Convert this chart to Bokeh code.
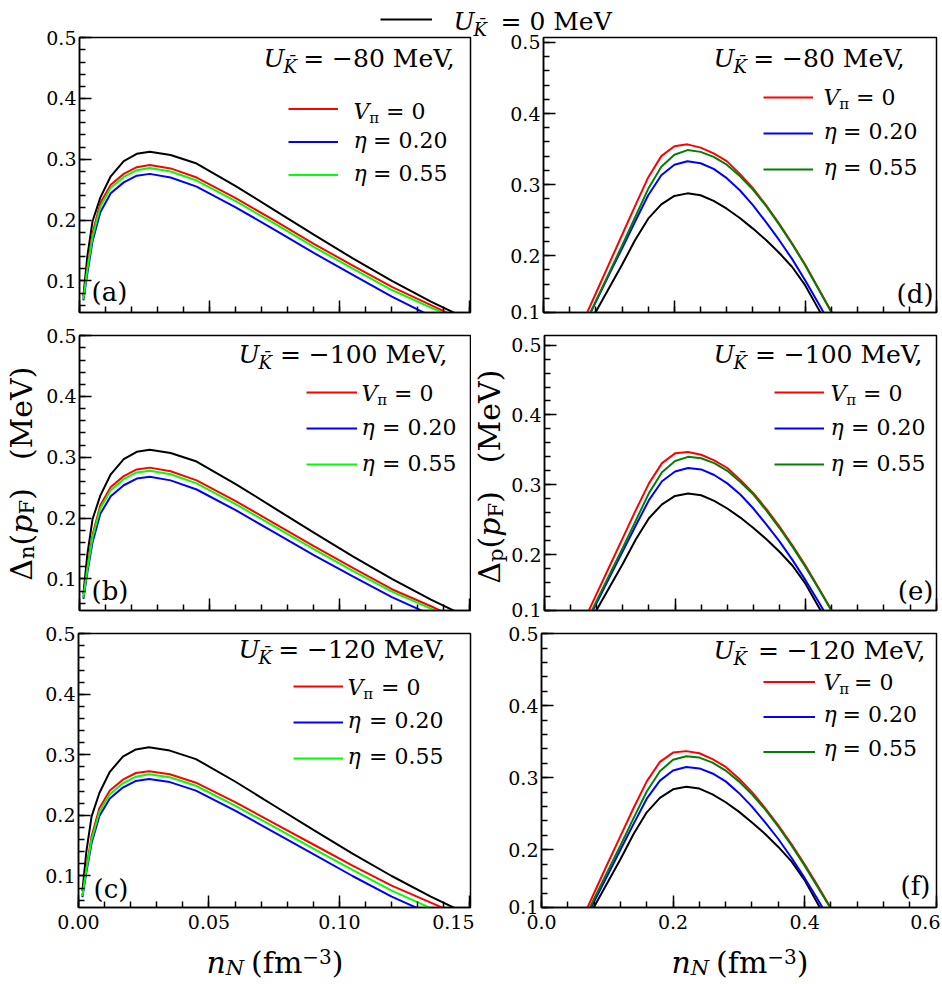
import math
import unicodedata
from bokeh.plotting import figure
from bokeh.models import (Label, Legend, LegendItem, Range1d, SingleIntervalTicker,
                          FixedTicker, CustomJSTickFormatter)
from bokeh.layouts import column, row
from bokeh.embed import file_html
from bokeh.resources import INLINE

FONT = "DejaVu Serif"
RED, BLUE, LIME, DGREEN, BLACK = "#ff0000", "#0000ff", "#00ff00", "#008000", "#000000"

# ---------------------------------------------------------------- data
# left column: Delta_n(p_F) (MeV) versus n_N (fm^-3)
x_left = [0.0015, 0.003, 0.005, 0.008, 0.012, 0.017, 0.022, 0.027, 0.035, 0.045,
          0.060, 0.075, 0.090, 0.105, 0.120, 0.135, 0.150]
black_left = [0.075, 0.140, 0.198, 0.237, 0.272, 0.297, 0.309, 0.3125, 0.307, 0.293,
              0.256, 0.216, 0.176, 0.137, 0.100, 0.066, 0.035]
a_red = [0.072, 0.122, 0.178, 0.228, 0.258, 0.276, 0.287, 0.2905, 0.285, 0.270,
         0.236, 0.199, 0.161, 0.125, 0.090, 0.060, 0.030]
a_blue = [0.068, 0.112, 0.165, 0.213, 0.244, 0.262, 0.273, 0.276, 0.270, 0.255,
          0.221, 0.184, 0.146, 0.110, 0.074, 0.042, 0.014]
a_green = [0.070, 0.118, 0.172, 0.222, 0.253, 0.271, 0.282, 0.2855, 0.280, 0.265,
           0.231, 0.194, 0.156, 0.120, 0.085, 0.056, 0.028]
b_red = [0.070, 0.118, 0.172, 0.221, 0.251, 0.269, 0.280, 0.283, 0.277, 0.262,
         0.228, 0.191, 0.154, 0.118, 0.083, 0.055, 0.025]
b_blue = [0.067, 0.110, 0.160, 0.207, 0.236, 0.254, 0.265, 0.268, 0.262, 0.247,
          0.213, 0.176, 0.139, 0.104, 0.070, 0.041, 0.013]
b_green = [0.069, 0.115, 0.168, 0.216, 0.246, 0.264, 0.275, 0.278, 0.272, 0.257,
           0.223, 0.186, 0.149, 0.113, 0.079, 0.051, 0.022]
c_red = [0.068, 0.113, 0.165, 0.212, 0.241, 0.259, 0.270, 0.273, 0.268, 0.254,
         0.222, 0.187, 0.152, 0.117, 0.084, 0.056, 0.028]
c_blue = [0.065, 0.106, 0.154, 0.199, 0.228, 0.246, 0.257, 0.260, 0.255, 0.241,
          0.208, 0.172, 0.136, 0.100, 0.066, 0.037, 0.010]
c_green = [0.067, 0.110, 0.160, 0.206, 0.235, 0.253, 0.264, 0.268, 0.263, 0.249,
           0.216, 0.181, 0.145, 0.110, 0.076, 0.047, 0.019]

# right column: Delta_p(p_F) (MeV) versus n_N (fm^-3)
x_right = [0.06, 0.08, 0.10, 0.12, 0.14, 0.16, 0.18, 0.20, 0.22, 0.24, 0.26,
           0.28, 0.30, 0.32, 0.34, 0.36, 0.38, 0.40, 0.42, 0.44, 0.46]
black_right = [0.088, 0.121, 0.154, 0.187, 0.222, 0.252, 0.272, 0.284, 0.2876, 0.285, 0.277,
               0.266, 0.253, 0.238, 0.222, 0.204, 0.184, 0.158, 0.125, 0.092, 0.060]
d_red = [0.106, 0.147, 0.188, 0.229, 0.270, 0.310, 0.340, 0.354, 0.3566, 0.352, 0.344,
         0.333, 0.315, 0.295, 0.271, 0.245, 0.217, 0.187, 0.154, 0.121, 0.088]
d_blue = [0.097, 0.135, 0.173, 0.210, 0.248, 0.285, 0.313, 0.328, 0.3327, 0.330, 0.322,
          0.309, 0.292, 0.271, 0.247, 0.222, 0.195, 0.165, 0.133, 0.100, 0.067]
d_green = [0.097, 0.136, 0.175, 0.214, 0.254, 0.294, 0.325, 0.342, 0.3485, 0.346, 0.339,
           0.328, 0.312, 0.293, 0.270, 0.244, 0.216, 0.186, 0.153, 0.120, 0.087]
e_red = [0.104, 0.144, 0.184, 0.224, 0.264, 0.302, 0.331, 0.345, 0.347, 0.343, 0.335,
         0.324, 0.307, 0.288, 0.265, 0.240, 0.213, 0.184, 0.152, 0.120, 0.088]
e_blue = [0.094, 0.131, 0.168, 0.205, 0.242, 0.278, 0.305, 0.319, 0.324, 0.322, 0.314,
          0.302, 0.286, 0.266, 0.243, 0.219, 0.192, 0.163, 0.132, 0.100, 0.068]
e_green = [0.096, 0.134, 0.172, 0.210, 0.249, 0.288, 0.318, 0.334, 0.340, 0.338, 0.331,
           0.320, 0.304, 0.286, 0.263, 0.238, 0.211, 0.182, 0.151, 0.119, 0.087]
f_red = [0.100, 0.140, 0.180, 0.219, 0.258, 0.295, 0.322, 0.335, 0.337, 0.334, 0.326,
         0.315, 0.299, 0.280, 0.258, 0.234, 0.208, 0.180, 0.150, 0.119, 0.088]
f_blue = [0.092, 0.128, 0.164, 0.200, 0.236, 0.271, 0.296, 0.310, 0.315, 0.313, 0.306,
          0.295, 0.279, 0.260, 0.238, 0.215, 0.189, 0.161, 0.131, 0.100, 0.069]
f_green = [0.094, 0.132, 0.169, 0.206, 0.244, 0.281, 0.309, 0.325, 0.330, 0.328, 0.321,
           0.310, 0.295, 0.277, 0.256, 0.232, 0.206, 0.178, 0.148, 0.118, 0.087]

panel_letters = ["(a)", "(b)", "(c)", "(d)", "(e)", "(f)"]
ukbar_values = ["\u221280", "\u2212100", "\u2212120"]
legend_texts = [("V", "\u03c0", "= 0"), ("\u03b7", None, "= 0.20"), ("\u03b7", None, "= 0.55")]

# ---------------------------------------------------------------- text metrics (approx. em widths)
W_REG = {".": .318, ",": .318, " ": .318, "=": .838, "\u2212": .838, "(": .390, ")": .390,
         "M": .97, "e": .592, "V": .722, "f": .37, "m": .948, "F": .70, "n": .644,
         "p": .640, "\u0394": .73, "\u03c0": .62}
W_REG.update({d: .636 for d in "0123456789"})
W_IT = {"U": .80, "K": .76, "V": .72, "\u03b7": .64, "p": .64, "n": .64, "N": .83, "\u03c0": .62}
BASE_SHIFT = 0.346   # the label anchor sits this many em above the drawn baseline


def tw(s, size, italic):
    tbl = W_IT if italic else W_REG
    return sum(tbl.get(c, .6) for c in s if not unicodedata.combining(c)) * size


def rich(p, fr, segs, start, base, end=None, vertical=False, center=False):
    """segs: (text, size, italic, dy) tuples or numbers (extra gap, px); page pixels."""
    fl, ft, frr, fb = fr
    items, cur = [], 0.0
    for s in segs:
        if isinstance(s, (int, float)):
            cur += s
            continue
        t, sz, it, dy = s
        items.append([t, sz, it, dy, cur])
        cur += tw(t, sz, it)
    if center:
        start = start + cur / 2 if vertical else start - cur / 2
    if end is not None and len(items) > 1:
        t, sz, it, dy, off = items[-1]
        want = abs(end - start) - tw(t, sz, it)
        if want > off:
            items[-1][4] = want
    for t, sz, it, dy, d in items:
        down = base + dy - BASE_SHIFT * sz
        if vertical:
            px, py, ang = down, start - d, math.pi / 2
        else:
            px, py, ang = start + d, down, 0.0
        p.add_layout(Label(x=px - fl, y=fb - py, x_units="screen", y_units="screen",
                           text=t, text_font=FONT, text_font_size=f"{sz}px",
                           text_font_style="italic" if it else "normal",
                           text_color="black", text_align="left",
                           text_baseline="alphabetic", angle=ang))


def add_legend(p, fr, renderers, x0, x1, yc, step):
    fl, ft, frr, fb = fr
    top = yc - step / 2
    bottom = top + step * len(renderers)
    items = [LegendItem(label="", renderers=[r]) for r in renderers]
    p.add_layout(Legend(items=items, location=(x0 - fl, fb - bottom),
                        glyph_width=int(round(x1 - x0)), glyph_height=int(round(step)),
                        spacing=0, padding=0, margin=0, label_standoff=0,
                        label_width=0, label_height=0,
                        border_line_color=None, background_fill_alpha=0))


def make_fig(canvas, frame, xr, yr, xtick, ytick, xfmt=None, yfmt=None):
    cl, ct, cr, cb = canvas
    fl, ft, frr, fb = frame
    p = figure(width=cr - cl, height=cb - ct, x_range=Range1d(*xr), y_range=Range1d(*yr),
               output_backend="svg", toolbar_location=None,
               min_border_left=fl - cl, min_border_right=cr - frr,
               min_border_top=ft - ct, min_border_bottom=cb - fb)
    p.grid.visible = False
    p.outline_line_color = "black"
    p.outline_line_width = 1.5
    p.outline_line_alpha = 1.0
    p.background_fill_color = "white"
    p.border_fill_color = None
    for ax in (p.xaxis[0], p.yaxis[0]):
        ax.axis_line_width = 1.5
        ax.axis_line_color = "black"
        ax.major_tick_in = 12
        ax.major_tick_out = 0
        ax.minor_tick_in = 6
        ax.minor_tick_out = 0
        ax.major_tick_line_width = 1.5
        ax.minor_tick_line_width = 1.5
        ax.major_tick_line_color = "black"
        ax.minor_tick_line_color = "black"
        ax.major_label_text_font = FONT
        ax.major_label_text_font_size = "19px"
        ax.major_label_text_color = "black"
    p.xaxis.ticker = xtick
    p.yaxis.ticker = ytick
    p.yaxis.major_label_standoff = 3
    if xfmt is not None:
        p.xaxis.formatter = xfmt
        p.xaxis.major_label_standoff = 7
    else:
        p.xaxis.major_label_standoff = 0
        p.xaxis.major_label_text_font_size = "0px"
        p.xaxis.major_label_text_color = None
    if yfmt is not None:
        p.yaxis.formatter = yfmt
    return p


def text_fig(canvas, margin=None):
    cl, ct, cr, cb = canvas
    kw = {} if margin is None else {"margin": margin}
    p = figure(width=cr - cl, height=cb - ct, x_range=Range1d(0, 1), y_range=Range1d(0, 1),
               output_backend="svg", toolbar_location=None,
               min_border_left=0, min_border_right=0, min_border_top=0, min_border_bottom=0, **kw)
    p.axis.visible = False
    p.grid.visible = False
    p.outline_line_color = None
    p.background_fill_color = None
    p.border_fill_color = None
    return p


def right_y_ticker():
    return FixedTicker(ticks=[0.12, 0.2, 0.3, 0.4, 0.5],
                       minor_ticks=[round(0.12 + 0.02 * i, 2) for i in range(21)])


def right_y_fmt():
    return CustomJSTickFormatter(code="return tick < 0.15 ? '0.1' : tick.toFixed(1);")


# ---------------------------------------------------------------- geometry (page pixels, origin 0,0)
HDR_CAN = (0, 0, 940, 40)
CAN = {"a": (0, 23, 490, 324), "d": (490, 23, 940, 324),
       "b": (42, 324, 471, 622), "e": (508, 324, 940, 622),
       "c": (0, 622, 474, 945), "f": (474, 622, 940, 945)}
FR = {"a": (79, 35, 470, 312), "d": (543, 37, 936, 312),
      "b": (79, 335, 470, 610), "e": (543, 325, 936, 610),
      "c": (78, 633, 470, 907), "f": (541, 633, 936, 909)}
YL_CAN = (0, 324, 42, 622)
YR_CAN = (471, 324, 508, 622)
XL_CAN = (0, 945, 940, 982)

XL = (0.0, 0.1502)
YL = (0.048, 0.5003)
XR = (0.0, 0.6005)
YR = {"d": (0.1199, 0.507), "e": (0.1199, 0.5138), "f": (0.1199, 0.5003)}

figs = {}
for k in "abc":
    figs[k] = make_fig(CAN[k], FR[k], XL, YL,
                       SingleIntervalTicker(interval=0.05, num_minor_ticks=5),
                       SingleIntervalTicker(interval=0.1, num_minor_ticks=5),
                       xfmt=CustomJSTickFormatter(code="return tick.toFixed(2);") if k == "c" else None)
for k in "def":
    figs[k] = make_fig(CAN[k], FR[k], XR, YR[k],
                       SingleIntervalTicker(interval=0.2, num_minor_ticks=5),
                       right_y_ticker(),
                       xfmt=CustomJSTickFormatter(code="return tick.toFixed(1);") if k == "f" else None,
                       yfmt=right_y_fmt())

series = {
    "a": (x_left, [black_left, a_red, a_blue, a_green], [BLACK, RED, BLUE, LIME]),
    "b": (x_left, [black_left, b_red, b_blue, b_green], [BLACK, RED, BLUE, LIME]),
    "c": (x_left, [black_left, c_red, c_blue, c_green], [BLACK, RED, BLUE, LIME]),
    "d": (x_right, [black_right, d_red, d_blue, d_green], [BLACK, RED, BLUE, DGREEN]),
    "e": (x_right, [black_right, e_red, e_blue, e_green], [BLACK, RED, BLUE, DGREEN]),
    "f": (x_right, [black_right, f_red, f_blue, f_green], [BLACK, RED, BLUE, DGREEN]),
}
rends = {}
for k, (xs, ys_list, cols) in series.items():
    rends[k] = [figs[k].line(xs, ys, line_color=c, line_width=2) for ys, c in zip(ys_list, cols)]

# per-panel annotation layout: U-text (start, end, baseline), legend (x0, x1, first row centre, step),
# legend texts (start, end of V-row, end of eta-rows, baselines), panel letter (x, baseline, anchor)
ANN = {
    "a": dict(u=(263, 457, 67), leg=(288, 338, 108, 33), txt=(353, 425, 447, (118.5, 148, 180.5)),
              let=(91, 300, "left")),
    "d": dict(u=(713, 907, 67), leg=(763, 813, 97, 36), txt=(823, 895, 917, (105, 139, 175)),
              let=(932, 302, "right")),
    "b": dict(u=(238, 450, 363), leg=(306, 357, 392, 36), txt=(361, 433, 456, (401, 435, 471)),
              let=(91, 599, "left")),
    "e": dict(u=(712, 924, 363), leg=(773, 823, 392, 36), txt=(829, 901, 924, (401, 435, 471)),
              let=(932, 599, "right")),
    "c": dict(u=(238, 445, 658), leg=(293, 343, 686, 36), txt=(347, 420, 443, (695, 728, 764)),
              let=(93, 897, "left")),
    "f": dict(u=(713, 928, 661), leg=(763, 815, 683, 35), txt=(823, 893, 916, (692, 724, 758)),
              let=(930, 896, "right")),
}
UVAL = {"a": ukbar_values[0], "d": ukbar_values[0], "b": ukbar_values[1],
        "e": ukbar_values[1], "c": ukbar_values[2], "f": ukbar_values[2]}
LETTER = dict(zip("abcdef", panel_letters))

for k, ann in ANN.items():
    p, fr = figs[k], FR[k]
    us, ue, ub = ann["u"]
    rich(p, fr, [("U", 25, True, 0), ("K\u0304", 18, True, 5), 6,
                 ("= " + UVAL[k] + " MeV,", 25, False, 0)], us, ub, end=ue)
    x0, x1, yc, step = ann["leg"]
    add_legend(p, fr, rends[k][1:], x0, x1, yc, step)
    ts, tev, tee, bases = ann["txt"]
    for (main, sub, rest), b in zip(legend_texts, bases):
        if sub is not None:
            segs = [(main, 22, True, 0), (sub, 15, False, 4), 3, (rest, 22, False, 0)]
            rich(p, fr, segs, ts, b, end=tev)
        else:
            segs = [(main, 22, True, 0), 5, (rest, 22, False, 0)]
            rich(p, fr, segs, ts, b, end=tee)
    lx, lb, anchor = ann["let"]
    txt = LETTER[k]
    start = lx if anchor == "left" else lx - tw(txt, 26, False)
    rich(p, fr, [(txt, 26, False, 0)], start, lb)

# header: black curve legend  U_Kbar = 0 MeV (first row overlaps it through a negative margin)
hdr = text_fig(HDR_CAN, margin=(0, 0, -17, 0))
r_hdr = hdr.line(x_left, black_left, line_color=BLACK, line_width=2, visible=False)
hdr.add_layout(Legend(items=[LegendItem(label="", renderers=[r_hdr])],
                      location=(380 - HDR_CAN[0], HDR_CAN[3] - 26), glyph_width=52, glyph_height=14,
                      spacing=0, padding=0, margin=0, label_standoff=0, label_width=0,
                      label_height=0, border_line_color=None, background_fill_alpha=0))
rich(hdr, HDR_CAN, [("U", 25, True, 0), ("K\u0304", 18, True, 5)], 453, 30)
rich(hdr, HDR_CAN, [("= 0 MeV", 25, False, 0)], 500, 30)

# y-axis titles (rotated, reading upwards)
ylf = text_fig(YL_CAN)
rich(ylf, YL_CAN, [("\u0394", 30, False, 0), ("n", 21, False, 3), ("(", 30, False, 0),
                   ("p", 30, True, 0), ("F", 21, False, 3), (")", 30, False, 0), 28,
                   ("(MeV)", 30, False, 0)], 486, 31, vertical=True, center=True)
yrf = text_fig(YR_CAN)
rich(yrf, YR_CAN, [("\u0394", 30, False, 0), ("p", 21, False, 3), ("(", 30, False, 0),
                   ("p", 30, True, 0), ("F", 21, False, 3), (")", 30, False, 0), 28,
                   ("(MeV)", 30, False, 0)], 489, 499.5, vertical=True, center=True)

# x-axis titles
xlf = text_fig(XL_CAN)
for cx in (274.5, 739.5):
    rich(xlf, XL_CAN, [("n", 30, True, 0), ("N", 21, True, 3), 8, ("(fm", 30, False, 0),
                       ("\u22123", 20, False, -9), (")", 30, False, 0)], cx, 972, center=True)

layout = column(hdr,
                row(figs["a"], figs["d"]),
                row(ylf, figs["b"], yrf, figs["e"]),
                row(figs["c"], figs["f"]),
                xlf)

with open("out.html", "w") as fh:
    fh.write(file_html(layout, INLINE))
